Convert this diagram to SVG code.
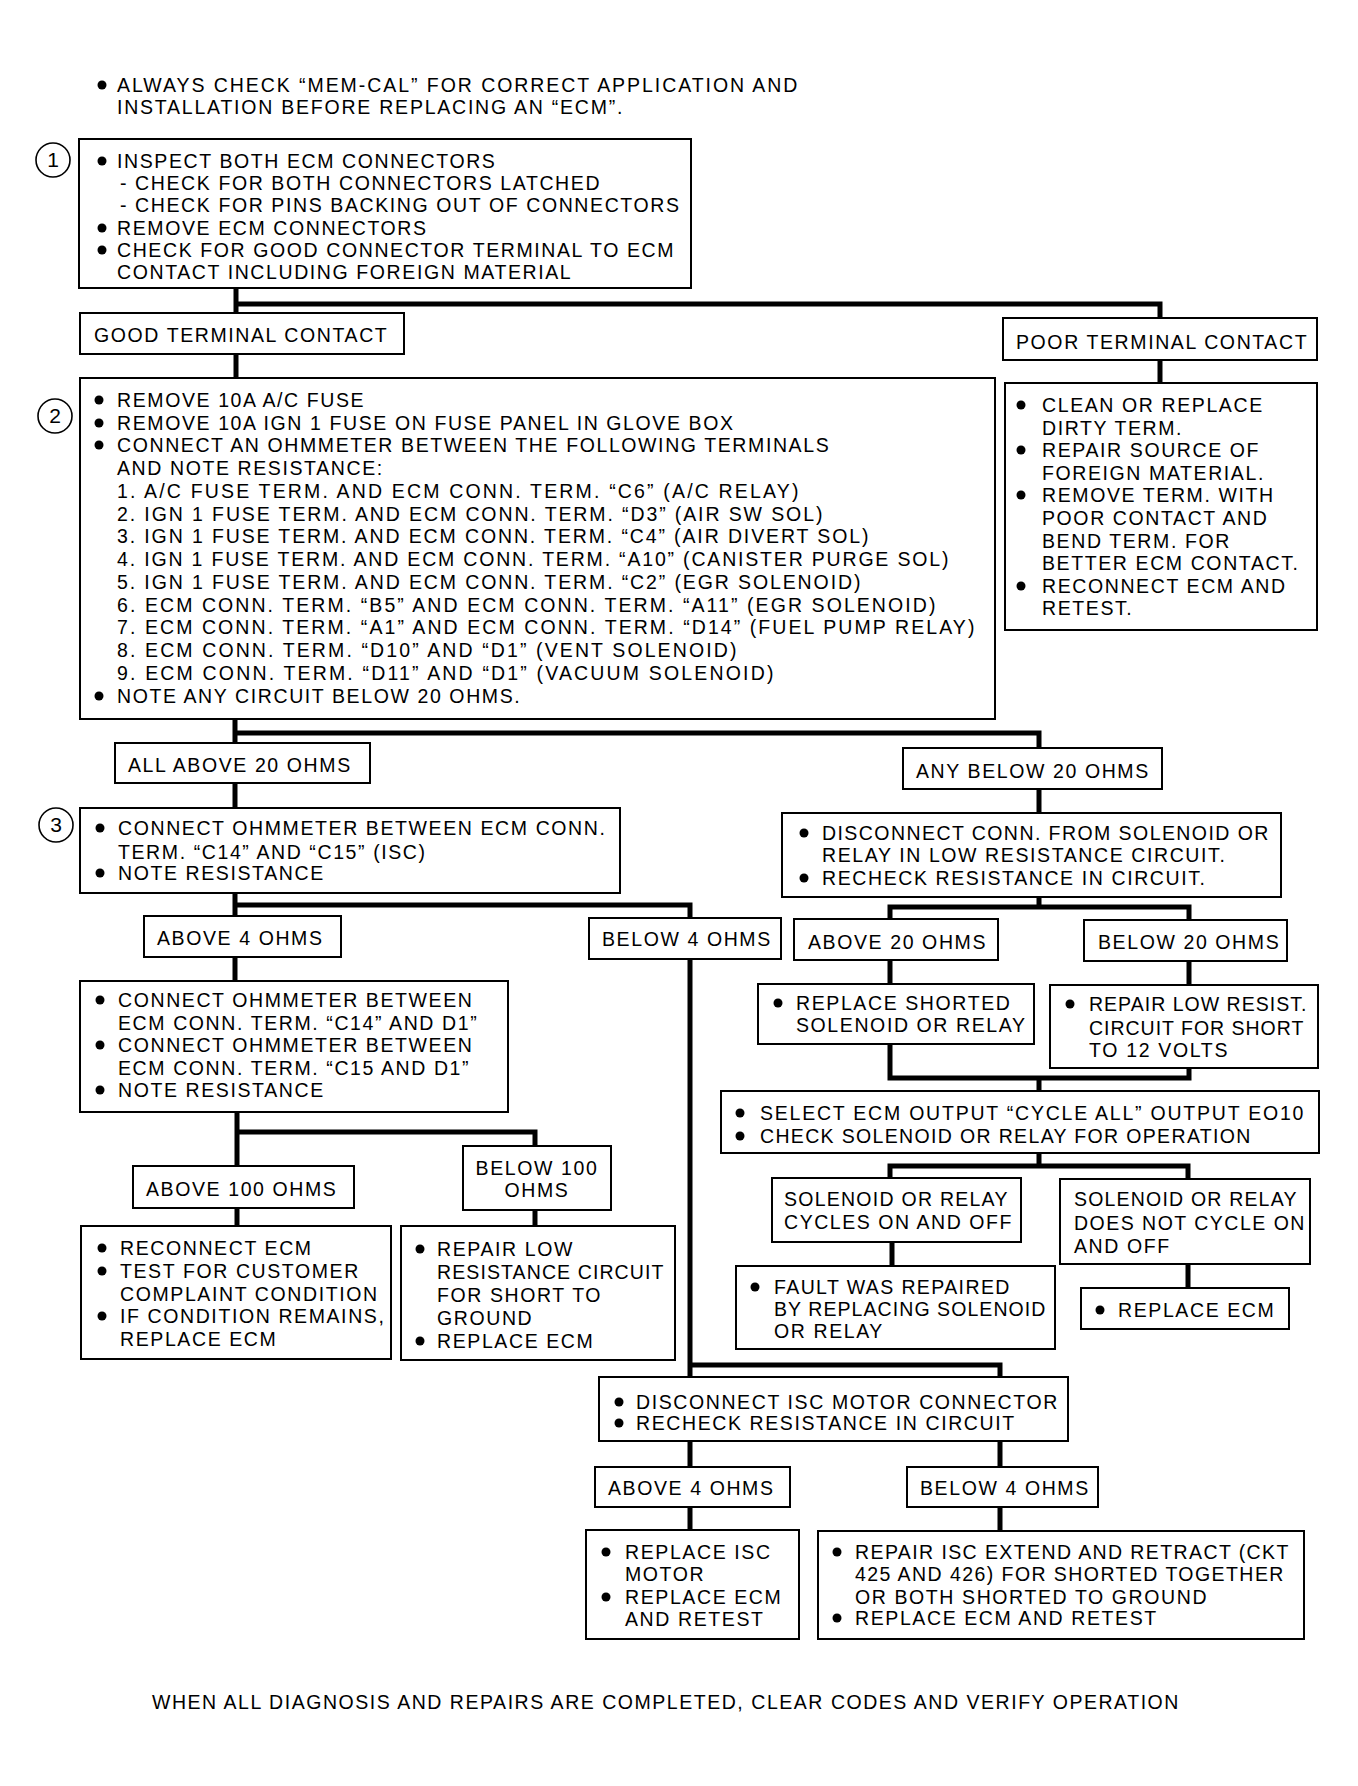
<svg xmlns="http://www.w3.org/2000/svg" width="1358" height="1786" viewBox="0 0 1358 1786">
<style>
.t{font-family:"Liberation Sans",Arial,Helvetica,sans-serif;font-size:19.5px;letter-spacing:1.6px;fill:#000}
.n{font-family:"Liberation Sans",Arial,Helvetica,sans-serif;font-size:21px;fill:#000;text-anchor:middle}
.box{fill:#fff;stroke:#000;stroke-width:2}
.c{fill:none;stroke:#000;stroke-width:1.6}
.b{fill:#000}
.con{fill:none;stroke:#000;stroke-width:5;stroke-linejoin:miter}
</style>
<rect width="1358" height="1786" fill="#fff"/>

<g id="connectors">
<path class="con" d="M236,288 V313 M236,304 H1160 V318"/>
<path class="con" d="M236,354 V378"/>
<path class="con" d="M1160,360 V383"/>
<path class="con" d="M235,719 V743 M235,733 H1039 V748"/>
<path class="con" d="M235,783 V808"/>
<path class="con" d="M235,893 V916 M235,905 H690 V918"/>
<path class="con" d="M235,957 V981"/>
<path class="con" d="M237,1112 V1166 M237,1132 H535 V1146"/>
<path class="con" d="M237,1208 V1226"/>
<path class="con" d="M535,1210 V1226"/>
<path class="con" d="M690,959 V1377 M690,1365 H1000 V1377"/>
<path class="con" d="M690,1441 V1467 M1000,1441 V1467"/>
<path class="con" d="M690,1507 V1530 M1000,1507 V1531"/>
<path class="con" d="M1039,789 V813"/>
<path class="con" d="M1039,897 V907 M890,919 V907 H1189 V920"/>
<path class="con" d="M890,960 V984 M1189,961 V985"/>
<path class="con" d="M890,1044 V1078 H1189 V1068 M1039,1078 V1091"/>
<path class="con" d="M1039,1153 V1166 M890,1178 V1166 H1188 V1179"/>
<path class="con" d="M892,1242 V1266 M1188,1264 V1288"/>
</g>

<g id="note-top">
<circle class="b" cx="102" cy="85" r="4.5"/>
<text class="t" x="117" y="92" textLength="682">ALWAYS CHECK “MEM-CAL” FOR CORRECT APPLICATION AND</text>
<text class="t" x="117" y="114" textLength="507">INSTALLATION BEFORE REPLACING AN “ECM”.</text>
</g>

<g id="step1">
<circle class="c" cx="53" cy="160" r="17"/>
<text class="n" x="53" y="167">1</text>
<rect class="box" x="79" y="139" width="612" height="149"/>
<circle class="b" cx="102" cy="161" r="4.5"/>
<text class="t" x="117" y="168">INSPECT BOTH ECM CONNECTORS</text>
<text class="t" x="120" y="190">- CHECK FOR BOTH CONNECTORS LATCHED</text>
<text class="t" x="120" y="212">- CHECK FOR PINS BACKING OUT OF CONNECTORS</text>
<circle class="b" cx="102" cy="228" r="4.5"/>
<text class="t" x="117" y="235">REMOVE ECM CONNECTORS</text>
<circle class="b" cx="102" cy="250" r="4.5"/>
<text class="t" x="117" y="257">CHECK FOR GOOD CONNECTOR TERMINAL TO ECM</text>
<text class="t" x="117" y="279">CONTACT INCLUDING FOREIGN MATERIAL</text>
</g>

<g id="good-contact">
<rect class="box" x="80" y="313" width="324" height="41"/>
<text class="t" x="94" y="342">GOOD TERMINAL CONTACT</text>
</g>

<g id="poor-contact">
<rect class="box" x="1003" y="318" width="314" height="42"/>
<text class="t" x="1016" y="349">POOR TERMINAL CONTACT</text>
</g>

<g id="poor-action">
<rect class="box" x="1005" y="383" width="312" height="247"/>
<circle class="b" cx="1021" cy="405" r="4.5"/>
<text class="t" x="1042" y="412">CLEAN OR REPLACE</text>
<text class="t" x="1042" y="435">DIRTY TERM.</text>
<circle class="b" cx="1021" cy="450" r="4.5"/>
<text class="t" x="1042" y="457">REPAIR SOURCE OF</text>
<text class="t" x="1042" y="480">FOREIGN MATERIAL.</text>
<circle class="b" cx="1021" cy="495" r="4.5"/>
<text class="t" x="1042" y="502">REMOVE TERM. WITH</text>
<text class="t" x="1042" y="525">POOR CONTACT AND</text>
<text class="t" x="1042" y="548">BEND TERM. FOR</text>
<text class="t" x="1042" y="570">BETTER ECM CONTACT.</text>
<circle class="b" cx="1021" cy="586" r="4.5"/>
<text class="t" x="1042" y="593">RECONNECT ECM AND</text>
<text class="t" x="1042" y="615">RETEST.</text>
</g>

<g id="step2">
<circle class="c" cx="55" cy="416" r="17"/>
<text class="n" x="55" y="423">2</text>
<rect class="box" x="80" y="378" width="915" height="341"/>
<circle class="b" cx="99" cy="400" r="4.5"/>
<text class="t" x="117" y="407">REMOVE 10A A/C FUSE</text>
<circle class="b" cx="99" cy="423" r="4.5"/>
<text class="t" x="117" y="430">REMOVE 10A IGN 1 FUSE ON FUSE PANEL IN GLOVE BOX</text>
<circle class="b" cx="99" cy="445" r="4.5"/>
<text class="t" x="117" y="452">CONNECT AN OHMMETER BETWEEN THE FOLLOWING TERMINALS</text>
<text class="t" x="117" y="475">AND NOTE RESISTANCE:</text>
<text class="t" x="117" y="498" textLength="683">1. A/C FUSE TERM. AND ECM CONN. TERM. “C6” (A/C RELAY)</text>
<text class="t" x="117" y="521" textLength="707">2. IGN 1 FUSE TERM. AND ECM CONN. TERM. “D3” (AIR SW SOL)</text>
<text class="t" x="117" y="543" textLength="753">3. IGN 1 FUSE TERM. AND ECM CONN. TERM. “C4” (AIR DIVERT SOL)</text>
<text class="t" x="117" y="566" textLength="833">4. IGN 1 FUSE TERM. AND ECM CONN. TERM. “A10” (CANISTER PURGE SOL)</text>
<text class="t" x="117" y="589" textLength="745">5. IGN 1 FUSE TERM. AND ECM CONN. TERM. “C2” (EGR SOLENOID)</text>
<text class="t" x="117" y="612" textLength="820">6. ECM CONN. TERM. “B5” AND ECM CONN. TERM. “A11” (EGR SOLENOID)</text>
<text class="t" x="117" y="634" textLength="859">7. ECM CONN. TERM. “A1” AND ECM CONN. TERM. “D14” (FUEL PUMP RELAY)</text>
<text class="t" x="117" y="657" textLength="621">8. ECM CONN. TERM. “D10” AND “D1” (VENT SOLENOID)</text>
<text class="t" x="117" y="680" textLength="658">9. ECM CONN. TERM. “D11” AND “D1” (VACUUM SOLENOID)</text>
<circle class="b" cx="99" cy="696" r="4.5"/>
<text class="t" x="117" y="703">NOTE ANY CIRCUIT BELOW 20 OHMS.</text>
</g>

<g id="all-above-20">
<rect class="box" x="115" y="743" width="255" height="40"/>
<text class="t" x="128" y="772">ALL ABOVE 20 OHMS</text>
</g>

<g id="any-below-20">
<rect class="box" x="903" y="748" width="259" height="41"/>
<text class="t" x="916" y="778">ANY BELOW 20 OHMS</text>
</g>

<g id="step3">
<circle class="c" cx="56" cy="825" r="17"/>
<text class="n" x="56" y="832">3</text>
<rect class="box" x="80" y="808" width="540" height="85"/>
<circle class="b" cx="100" cy="828" r="4.5"/>
<text class="t" x="118" y="835">CONNECT OHMMETER BETWEEN ECM CONN.</text>
<text class="t" x="118" y="859">TERM. “C14” AND “C15” (ISC)</text>
<circle class="b" cx="100" cy="873" r="4.5"/>
<text class="t" x="118" y="880">NOTE RESISTANCE</text>
</g>

<g id="disconnect-solenoid">
<rect class="box" x="782" y="813" width="499" height="84"/>
<circle class="b" cx="804" cy="833" r="4.5"/>
<text class="t" x="822" y="840" textLength="448">DISCONNECT CONN. FROM SOLENOID OR</text>
<text class="t" x="822" y="862">RELAY IN LOW RESISTANCE CIRCUIT.</text>
<circle class="b" cx="804" cy="878" r="4.5"/>
<text class="t" x="822" y="885">RECHECK RESISTANCE IN CIRCUIT.</text>
</g>

<g id="above-4-a">
<rect class="box" x="144" y="916" width="197" height="41"/>
<text class="t" x="157" y="945">ABOVE 4 OHMS</text>
</g>

<g id="below-4-a">
<rect class="box" x="589" y="918" width="192" height="41"/>
<text class="t" x="602" y="946">BELOW 4 OHMS</text>
</g>

<g id="above-20">
<rect class="box" x="794" y="919" width="204" height="41"/>
<text class="t" x="808" y="949">ABOVE 20 OHMS</text>
</g>

<g id="below-20">
<rect class="box" x="1084" y="920" width="203" height="41"/>
<text class="t" x="1098" y="949">BELOW 20 OHMS</text>
</g>

<g id="replace-shorted">
<rect class="box" x="758" y="984" width="276" height="60"/>
<circle class="b" cx="778" cy="1003" r="4.5"/>
<text class="t" x="796" y="1010">REPLACE SHORTED</text>
<text class="t" x="796" y="1032">SOLENOID OR RELAY</text>
</g>

<g id="repair-low-resist">
<rect class="box" x="1050" y="985" width="268" height="83"/>
<circle class="b" cx="1070" cy="1004" r="4.5"/>
<text class="t" x="1089" y="1011" textLength="219">REPAIR LOW RESIST.</text>
<text class="t" x="1089" y="1035" textLength="216">CIRCUIT FOR SHORT</text>
<text class="t" x="1089" y="1057" textLength="140">TO 12 VOLTS</text>
</g>

<g id="connect-c14-d1">
<rect class="box" x="80" y="981" width="428" height="131"/>
<circle class="b" cx="100" cy="1000" r="4.5"/>
<text class="t" x="118" y="1007">CONNECT OHMMETER BETWEEN</text>
<text class="t" x="118" y="1030">ECM CONN. TERM. “C14” AND D1”</text>
<circle class="b" cx="100" cy="1045" r="4.5"/>
<text class="t" x="118" y="1052">CONNECT OHMMETER BETWEEN</text>
<text class="t" x="118" y="1075">ECM CONN. TERM. “C15 AND D1”</text>
<circle class="b" cx="100" cy="1090" r="4.5"/>
<text class="t" x="118" y="1097">NOTE RESISTANCE</text>
</g>

<g id="select-cycle-all">
<rect class="box" x="721" y="1091" width="598" height="62"/>
<circle class="b" cx="740" cy="1113" r="4.5"/>
<text class="t" x="760" y="1120" textLength="545">SELECT ECM OUTPUT “CYCLE ALL” OUTPUT EO10</text>
<circle class="b" cx="740" cy="1136" r="4.5"/>
<text class="t" x="760" y="1143" textLength="492">CHECK SOLENOID OR RELAY FOR OPERATION</text>
</g>

<g id="above-100">
<rect class="box" x="133" y="1166" width="221" height="42"/>
<text class="t" x="146" y="1196">ABOVE 100 OHMS</text>
</g>

<g id="below-100">
<rect class="box" x="463" y="1146" width="148" height="64"/>
<text class="t" x="537" y="1175" text-anchor="middle">BELOW 100</text>
<text class="t" x="537" y="1197" text-anchor="middle">OHMS</text>
</g>

<g id="cycles-on-off">
<rect class="box" x="772" y="1178" width="249" height="64"/>
<text class="t" x="784" y="1206" textLength="225">SOLENOID OR RELAY</text>
<text class="t" x="784" y="1229" textLength="229">CYCLES ON AND OFF</text>
</g>

<g id="does-not-cycle">
<rect class="box" x="1060" y="1179" width="250" height="85"/>
<text class="t" x="1074" y="1206" textLength="224">SOLENOID OR RELAY</text>
<text class="t" x="1074" y="1230" textLength="232">DOES NOT CYCLE ON</text>
<text class="t" x="1074" y="1253">AND OFF</text>
</g>

<g id="reconnect-ecm">
<rect class="box" x="81" y="1226" width="310" height="133"/>
<circle class="b" cx="102" cy="1248" r="4.5"/>
<text class="t" x="120" y="1255">RECONNECT ECM</text>
<circle class="b" cx="102" cy="1271" r="4.5"/>
<text class="t" x="120" y="1278">TEST FOR CUSTOMER</text>
<text class="t" x="120" y="1301">COMPLAINT CONDITION</text>
<circle class="b" cx="102" cy="1316" r="4.5"/>
<text class="t" x="120" y="1323">IF CONDITION REMAINS,</text>
<text class="t" x="120" y="1346">REPLACE ECM</text>
</g>

<g id="repair-low-ground">
<rect class="box" x="401" y="1226" width="274" height="134"/>
<circle class="b" cx="420" cy="1249" r="4.5"/>
<text class="t" x="437" y="1256">REPAIR LOW</text>
<text class="t" x="437" y="1279" textLength="228">RESISTANCE CIRCUIT</text>
<text class="t" x="437" y="1302">FOR SHORT TO</text>
<text class="t" x="437" y="1325">GROUND</text>
<circle class="b" cx="420" cy="1341" r="4.5"/>
<text class="t" x="437" y="1348">REPLACE ECM</text>
</g>

<g id="fault-repaired">
<rect class="box" x="736" y="1266" width="319" height="83"/>
<circle class="b" cx="755" cy="1287" r="4.5"/>
<text class="t" x="774" y="1294" textLength="237">FAULT WAS REPAIRED</text>
<text class="t" x="774" y="1316" textLength="273">BY REPLACING SOLENOID</text>
<text class="t" x="774" y="1338">OR RELAY</text>
</g>

<g id="replace-ecm">
<rect class="box" x="1081" y="1288" width="208" height="41"/>
<circle class="b" cx="1100" cy="1310" r="4.5"/>
<text class="t" x="1118" y="1317">REPLACE ECM</text>
</g>

<g id="disconnect-isc">
<rect class="box" x="599" y="1377" width="469" height="64"/>
<circle class="b" cx="619" cy="1402" r="4.5"/>
<text class="t" x="636" y="1409">DISCONNECT ISC MOTOR CONNECTOR</text>
<circle class="b" cx="619" cy="1423" r="4.5"/>
<text class="t" x="636" y="1430">RECHECK RESISTANCE IN CIRCUIT</text>
</g>

<g id="above-4-b">
<rect class="box" x="595" y="1467" width="195" height="40"/>
<text class="t" x="608" y="1495">ABOVE 4 OHMS</text>
</g>

<g id="below-4-b">
<rect class="box" x="907" y="1467" width="191" height="40"/>
<text class="t" x="920" y="1495">BELOW 4 OHMS</text>
</g>

<g id="replace-isc">
<rect class="box" x="586" y="1530" width="213" height="109"/>
<circle class="b" cx="606" cy="1552" r="4.5"/>
<text class="t" x="625" y="1559">REPLACE ISC</text>
<text class="t" x="625" y="1581">MOTOR</text>
<circle class="b" cx="606" cy="1597" r="4.5"/>
<text class="t" x="625" y="1604">REPLACE ECM</text>
<text class="t" x="625" y="1626">AND RETEST</text>
</g>

<g id="repair-isc">
<rect class="box" x="818" y="1531" width="486" height="108"/>
<circle class="b" cx="837" cy="1552" r="4.5"/>
<text class="t" x="855" y="1559" textLength="435">REPAIR ISC EXTEND AND RETRACT (CKT</text>
<text class="t" x="855" y="1581" textLength="430">425 AND 426) FOR SHORTED TOGETHER</text>
<text class="t" x="855" y="1604">OR BOTH SHORTED TO GROUND</text>
<circle class="b" cx="837" cy="1618" r="4.5"/>
<text class="t" x="855" y="1625">REPLACE ECM AND RETEST</text>
</g>

<g id="note-bottom">
<text class="t" x="152" y="1709" textLength="1028">WHEN ALL DIAGNOSIS AND REPAIRS ARE COMPLETED, CLEAR CODES AND VERIFY OPERATION</text>
</g>
</svg>
